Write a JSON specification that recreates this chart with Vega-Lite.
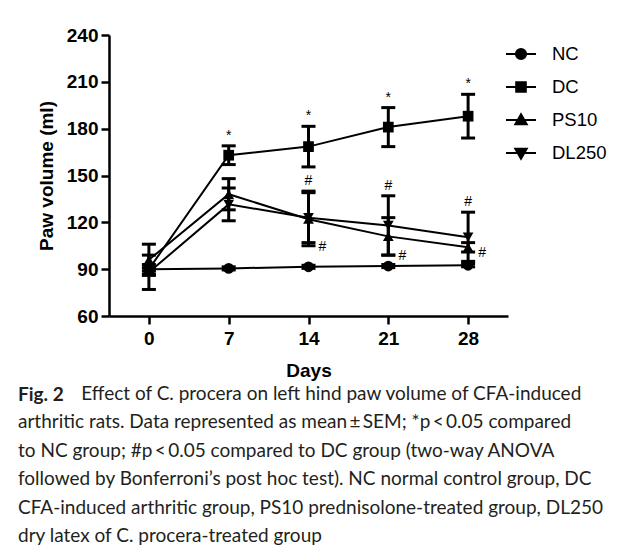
{
  "$schema": "https://vega.github.io/schema/vega-lite/v6.json",
  "width": 399,
  "height": 281,
  "autosize": {"type": "none"},
  "padding": {"left": 109, "top": 35, "right": 111, "bottom": 242},
  "background": "white",
  "data": {
    "values": [
      {"group": "NC", "day": 0, "mean": 90, "lo": 89, "hi": 91, "note": ""},
      {"group": "NC", "day": 7, "mean": 90.5, "lo": 89.5, "hi": 91.5, "note": ""},
      {"group": "NC", "day": 14, "mean": 91.5, "lo": 90.5, "hi": 92.5, "note": ""},
      {"group": "NC", "day": 21, "mean": 92, "lo": 91, "hi": 93, "note": ""},
      {"group": "NC", "day": 28, "mean": 92.5, "lo": 91.5, "hi": 93.5, "note": ""},
      {"group": "DC", "day": 0, "mean": 90, "lo": 87, "hi": 93, "note": ""},
      {"group": "DC", "day": 7, "mean": 163, "lo": 157, "hi": 169, "note": "*"},
      {"group": "DC", "day": 14, "mean": 168.5, "lo": 155.5, "hi": 181.5, "note": "*"},
      {"group": "DC", "day": 21, "mean": 181, "lo": 168.5, "hi": 193.5, "note": "*"},
      {"group": "DC", "day": 28, "mean": 188, "lo": 174, "hi": 202, "note": "*"},
      {"group": "PS10", "day": 0, "mean": 96, "lo": 86, "hi": 106, "note": ""},
      {"group": "PS10", "day": 7, "mean": 138, "lo": 128, "hi": 148, "note": ""},
      {"group": "PS10", "day": 14, "mean": 122, "lo": 105, "hi": 139, "note": "#"},
      {"group": "PS10", "day": 21, "mean": 111, "lo": 99, "hi": 123, "note": "#"},
      {"group": "PS10", "day": 28, "mean": 104, "lo": 101, "hi": 107, "note": "#"},
      {"group": "DL250", "day": 0, "mean": 88, "lo": 77, "hi": 99, "note": ""},
      {"group": "DL250", "day": 7, "mean": 131.5, "lo": 121, "hi": 142, "note": ""},
      {"group": "DL250", "day": 14, "mean": 123, "lo": 107, "hi": 140, "note": "#"},
      {"group": "DL250", "day": 21, "mean": 118, "lo": 99, "hi": 137, "note": "#"},
      {"group": "DL250", "day": 28, "mean": 110.5, "lo": 95, "hi": 126.5, "note": "#"}
    ]
  },
  "title": {
    "text": "Fig. 2",
    "subtitle": [
      "\u200b\u00a0\u00a0\u00a0\u00a0\u00a0\u00a0\u00a0\u00a0\u00a0\u00a0\u00a0\u00a0\u00a0Effect of C. procera on left hind paw volume of CFA-induced",
      "arthritic rats. Data represented as mean\u2009±\u2009SEM; *p\u2009<\u20090.05 compared",
      "to NC group; #p\u2009<\u20090.05 compared to DC group (two-way ANOVA",
      "followed by Bonferroni’s post hoc test). NC normal control group, DC",
      "CFA-induced arthritic group, PS10 prednisolone-treated group, DL250",
      "dry latex of C. procera-treated group"
    ],
    "orient": "bottom",
    "anchor": "start",
    "frame": "group",
    "offset": 6,
    "dx": -91,
    "font": "Lato",
    "fontSize": 19,
    "fontWeight": "bold",
    "color": "#231f20",
    "subtitleFont": "Lato",
    "subtitleFontSize": 19,
    "subtitleFontWeight": "normal",
    "subtitleColor": "#231f20",
    "subtitleLineHeight": 28.4,
    "subtitlePadding": -20
  },
  "encoding": {
    "x": {
      "field": "day",
      "type": "quantitative",
      "scale": {"domain": [-3.5, 31.5], "nice": false, "zero": false},
      "axis": {
        "title": "Days",
        "values": [0, 7, 14, 21, 28],
        "labelPadding": 5,
        "titlePadding": 13,
        "labelFlush": false
      }
    }
  },
  "layer": [
    {
      "mark": {"type": "line", "strokeWidth": 2, "color": "black"},
      "encoding": {
        "y": {
          "field": "mean",
          "type": "quantitative",
          "title": "Paw volume (ml)",
          "scale": {"domain": [60, 240], "nice": false, "zero": false},
          "axis": {
            "values": [60, 90, 120, 150, 180, 210, 240],
            "labelPadding": 3,
            "titlePadding": 10,
            "labelFlush": false
          }
        },
        "detail": {"field": "group", "type": "nominal"}
      }
    },
    {
      "mark": {
        "type": "errorbar",
        "color": "black",
        "opacity": 1,
        "thickness": 3,
        "rule": {"opacity": 1, "color": "black"},
        "ticks": {"size": 14, "thickness": 3, "color": "black", "opacity": 1}
      },
      "encoding": {
        "y": {"field": "lo", "type": "quantitative", "title": "Paw volume (ml)"},
        "y2": {"field": "hi"}
      }
    },
    {
      "mark": {"type": "point", "filled": true, "size": 115, "opacity": 1, "color": "black"},
      "encoding": {
        "y": {"field": "mean", "type": "quantitative", "title": "Paw volume (ml)"},
        "shape": {
          "field": "group",
          "type": "nominal",
          "scale": {
            "domain": ["NC", "DC", "PS10", "DL250"],
            "range": ["circle", "square", "triangle-up", "triangle-down"]
          },
          "legend": null
        }
      }
    },
    {
      "mark": {"type": "point", "filled": true, "fill": "black", "stroke": "black", "strokeWidth": 2, "opacity": 0},
      "encoding": {
        "y": {"field": "mean", "type": "quantitative", "title": "Paw volume (ml)"},
        "shape": {
          "field": "group",
          "type": "nominal",
          "scale": {
            "domain": ["NC", "DC", "PS10", "DL250"],
            "range": [
              "M-1,0H1M0.34,0A0.34,0.34,0,1,1,-0.34,0A0.34,0.34,0,1,1,0.34,0Z",
              "M-1,0H1M-0.32,-0.32H0.32V0.32H-0.32Z",
              "M-1,0H1M0,-0.38L0.38,0.28H-0.38Z",
              "M-1,0H1M0,0.38L0.38,-0.28H-0.38Z"
            ]
          },
          "legend": {
            "title": null,
            "orient": "none",
            "legendX": 396,
            "legendY": 3,
            "padding": 0,
            "symbolSize": 900,
            "symbolStrokeWidth": 2,
            "symbolOpacity": 1,
            "labelFont": "Liberation Sans",
            "labelFontSize": 18.5,
            "labelColor": "black",
            "labelOffset": 15,
            "rowPadding": 7,
            "encode": {
              "symbols": {
                "opacity": {"value": 1},
                "fill": {"value": "black"},
                "fillOpacity": {"value": 1},
                "stroke": {"value": "black"},
                "strokeOpacity": {"value": 1},
                "strokeWidth": {"value": 2}
              }
            }
          }
        }
      }
    },
    {
      "transform": [{"filter": "datum.note != '' && (datum.group == 'DC' || datum.group == 'DL250')"}],
      "mark": {"type": "text", "font": "Liberation Sans", "fontSize": 14, "color": "black", "baseline": "alphabetic", "dy": -6},
      "encoding": {
        "y": {"field": "hi", "type": "quantitative", "title": "Paw volume (ml)"},
        "text": {"field": "note"}
      }
    },
    {
      "transform": [{"filter": "datum.note != '' && datum.group == 'PS10'"}],
      "mark": {"type": "text", "font": "Liberation Sans", "fontSize": 14, "color": "black", "baseline": "middle", "dx": 14, "dy": 1},
      "encoding": {
        "y": {"field": "lo", "type": "quantitative", "title": "Paw volume (ml)"},
        "text": {"field": "note"}
      }
    }
  ],
  "resolve": {"scale": {"shape": "independent"}},
  "config": {
    "view": {"stroke": null},
    "axis": {
      "domainColor": "black",
      "domainWidth": 2.5,
      "tickColor": "black",
      "tickWidth": 2.5,
      "tickSize": 8,
      "labelColor": "black",
      "labelFont": "Liberation Sans",
      "labelFontSize": 19,
      "labelFontWeight": "bold",
      "titleFont": "Liberation Sans",
      "titleFontSize": 19,
      "titleFontWeight": "bold",
      "titleColor": "black",
      "grid": false
    }
  }
}
